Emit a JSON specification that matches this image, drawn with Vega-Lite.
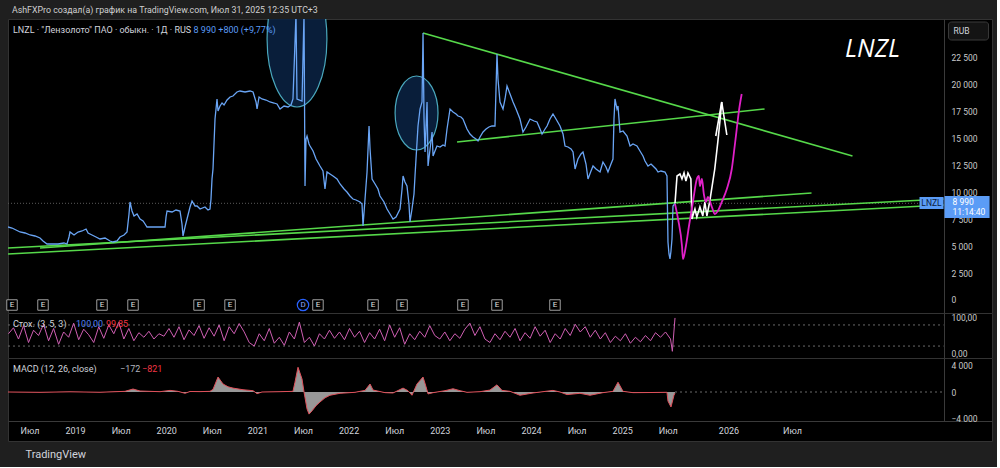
{
"$schema":"https://vega.github.io/schema/vega-lite/v6.json",
"background":"#1f1f1f",
"padding":{"left":4,"right":4,"top":5,"bottom":7},
"title":{"text":"AshFXPro создал(а) график на TradingView.com, Июл 31, 2025 12:35 UTC+3","anchor":"start","frame":"group","dx":4,"fontSize":8.8,"fontWeight":"normal","color":"#d0d0d0","font":"Roboto","offset":-5,"baseline":"bottom"},
"spacing":0,
"bounds":"flush",
"config":{
 "view":{"stroke":"#333333","fill":"#000000","strokeWidth":1},
 "font":"Roboto",
 "axis":{"labelFont":"Roboto","domainColor":"#3a3a3a","labelColor":"#c9c9c9","ticks":false,"tickSize":0,"grid":false,"labelFontSize":8.5,"labelFlush":false,"labelOverlap":false}
},
"datasets":{
 "price":[{"t":2018.265,"v":6787},{"t":2018.309,"v":6694},{"t":2018.353,"v":6508},{"t":2018.397,"v":6322},{"t":2018.452,"v":6229},{"t":2018.507,"v":6043},{"t":2018.561,"v":5950},{"t":2018.616,"v":5764},{"t":2018.649,"v":5485},{"t":2018.693,"v":5206},{"t":2018.748,"v":5206},{"t":2018.814,"v":5206},{"t":2018.879,"v":5299},{"t":2018.912,"v":5206},{"t":2018.934,"v":5857},{"t":2018.945,"v":6322},{"t":2018.989,"v":6043},{"t":2019.033,"v":6322},{"t":2019.077,"v":6415},{"t":2019.121,"v":6601},{"t":2019.143,"v":6229},{"t":2019.186,"v":6043},{"t":2019.230,"v":5857},{"t":2019.274,"v":5671},{"t":2019.329,"v":5764},{"t":2019.384,"v":5485},{"t":2019.417,"v":5392},{"t":2019.461,"v":5485},{"t":2019.493,"v":5857},{"t":2019.537,"v":6043},{"t":2019.570,"v":6322},{"t":2019.592,"v":7995},{"t":2019.603,"v":9111},{"t":2019.625,"v":8274},{"t":2019.647,"v":7809},{"t":2019.680,"v":7995},{"t":2019.713,"v":7531},{"t":2019.746,"v":7345},{"t":2019.768,"v":7066},{"t":2019.789,"v":6787},{"t":2019.877,"v":6787},{"t":2019.932,"v":6787},{"t":2019.987,"v":6787},{"t":2019.998,"v":7717},{"t":2020.009,"v":8274},{"t":2020.064,"v":8181},{"t":2020.107,"v":8367},{"t":2020.151,"v":8274},{"t":2020.173,"v":7066},{"t":2020.184,"v":5950},{"t":2020.206,"v":6787},{"t":2020.228,"v":7531},{"t":2020.261,"v":8646},{"t":2020.283,"v":9204},{"t":2020.316,"v":8739},{"t":2020.338,"v":8739},{"t":2020.371,"v":8460},{"t":2020.425,"v":8646},{"t":2020.458,"v":8367},{"t":2020.480,"v":8460},{"t":2020.491,"v":9390},{"t":2020.502,"v":11249},{"t":2020.513,"v":12179},{"t":2020.535,"v":16828},{"t":2020.557,"v":18687},{"t":2020.568,"v":17571},{"t":2020.590,"v":18036},{"t":2020.612,"v":18315},{"t":2020.634,"v":18129},{"t":2020.667,"v":18594},{"t":2020.700,"v":18873},{"t":2020.732,"v":18966},{"t":2020.776,"v":19338},{"t":2020.809,"v":19431},{"t":2020.864,"v":19338},{"t":2020.919,"v":19431},{"t":2020.952,"v":19338},{"t":2020.985,"v":18408},{"t":2020.996,"v":17757},{"t":2021.018,"v":18873},{"t":2021.050,"v":18687},{"t":2021.094,"v":18594},{"t":2021.138,"v":18408},{"t":2021.182,"v":18315},{"t":2021.215,"v":18222},{"t":2021.248,"v":17757},{"t":2021.292,"v":18036},{"t":2021.336,"v":17943},{"t":2021.368,"v":18129},{"t":2021.390,"v":18687},{"t":2021.423,"v":26589},{"t":2021.434,"v":18687},{"t":2021.489,"v":18501},{"t":2021.511,"v":26589},{"t":2021.522,"v":10599},{"t":2021.533,"v":14968},{"t":2021.544,"v":15247},{"t":2021.566,"v":14503},{"t":2021.577,"v":14317},{"t":2021.610,"v":13853},{"t":2021.643,"v":13109},{"t":2021.686,"v":12458},{"t":2021.719,"v":11993},{"t":2021.741,"v":10320},{"t":2021.763,"v":11900},{"t":2021.796,"v":11714},{"t":2021.829,"v":11528},{"t":2021.873,"v":11249},{"t":2021.906,"v":10785},{"t":2021.950,"v":10320},{"t":2021.982,"v":10041},{"t":2022.015,"v":9669},{"t":2022.048,"v":9390},{"t":2022.081,"v":9297},{"t":2022.125,"v":9111},{"t":2022.147,"v":8925},{"t":2022.158,"v":6880},{"t":2022.180,"v":9390},{"t":2022.202,"v":11900},{"t":2022.224,"v":16177},{"t":2022.235,"v":14038},{"t":2022.257,"v":11249},{"t":2022.290,"v":10785},{"t":2022.322,"v":10320},{"t":2022.344,"v":9669},{"t":2022.388,"v":9111},{"t":2022.421,"v":8460},{"t":2022.454,"v":7995},{"t":2022.487,"v":7531},{"t":2022.520,"v":7717},{"t":2022.564,"v":8460},{"t":2022.586,"v":10320},{"t":2022.597,"v":11528},{"t":2022.618,"v":10970},{"t":2022.640,"v":10599},{"t":2022.662,"v":8925},{"t":2022.673,"v":7252},{"t":2022.695,"v":8460},{"t":2022.717,"v":9855},{"t":2022.728,"v":11528},{"t":2022.739,"v":13109},{"t":2022.761,"v":16177},{"t":2022.783,"v":17757},{"t":2022.805,"v":18408},{"t":2022.816,"v":24823},{"t":2022.827,"v":16828},{"t":2022.838,"v":13760},{"t":2022.860,"v":18408},{"t":2022.871,"v":12458},{"t":2022.893,"v":14038},{"t":2022.915,"v":15619},{"t":2022.926,"v":13388},{"t":2022.947,"v":13853},{"t":2022.969,"v":14317},{"t":2023.002,"v":14224},{"t":2023.035,"v":14410},{"t":2023.057,"v":14317},{"t":2023.079,"v":15898},{"t":2023.112,"v":17757},{"t":2023.145,"v":17478},{"t":2023.178,"v":17292},{"t":2023.200,"v":17106},{"t":2023.232,"v":17013},{"t":2023.254,"v":16828},{"t":2023.276,"v":16363},{"t":2023.298,"v":15898},{"t":2023.331,"v":15433},{"t":2023.364,"v":15154},{"t":2023.397,"v":14968},{"t":2023.419,"v":14782},{"t":2023.441,"v":15154},{"t":2023.474,"v":15619},{"t":2023.507,"v":15898},{"t":2023.539,"v":16084},{"t":2023.572,"v":16177},{"t":2023.605,"v":16177},{"t":2023.627,"v":22871},{"t":2023.638,"v":20546},{"t":2023.660,"v":18408},{"t":2023.693,"v":17757},{"t":2023.715,"v":18687},{"t":2023.737,"v":19896},{"t":2023.770,"v":19152},{"t":2023.803,"v":18408},{"t":2023.836,"v":17757},{"t":2023.879,"v":16828},{"t":2023.912,"v":15619},{"t":2023.945,"v":16084},{"t":2023.989,"v":16828},{"t":2024.033,"v":16642},{"t":2024.066,"v":16549},{"t":2024.099,"v":15898},{"t":2024.121,"v":15433},{"t":2024.154,"v":15898},{"t":2024.176,"v":16177},{"t":2024.208,"v":16828},{"t":2024.241,"v":17292},{"t":2024.274,"v":16828},{"t":2024.318,"v":16177},{"t":2024.351,"v":15433},{"t":2024.373,"v":14317},{"t":2024.406,"v":14224},{"t":2024.439,"v":14038},{"t":2024.461,"v":13760},{"t":2024.483,"v":12179},{"t":2024.515,"v":13109},{"t":2024.548,"v":13574},{"t":2024.570,"v":13760},{"t":2024.603,"v":12644},{"t":2024.625,"v":11249},{"t":2024.658,"v":11993},{"t":2024.680,"v":12458},{"t":2024.713,"v":12179},{"t":2024.757,"v":11900},{"t":2024.789,"v":12830},{"t":2024.822,"v":12365},{"t":2024.844,"v":11900},{"t":2024.877,"v":12644},{"t":2024.899,"v":13109},{"t":2024.910,"v":16828},{"t":2024.921,"v":18687},{"t":2024.943,"v":17757},{"t":2024.954,"v":18036},{"t":2024.976,"v":15619},{"t":2025.009,"v":15712},{"t":2025.053,"v":15247},{"t":2025.086,"v":14317},{"t":2025.118,"v":14503},{"t":2025.162,"v":14317},{"t":2025.195,"v":13853},{"t":2025.228,"v":13388},{"t":2025.250,"v":12923},{"t":2025.283,"v":12458},{"t":2025.316,"v":12644},{"t":2025.338,"v":12458},{"t":2025.371,"v":12179},{"t":2025.393,"v":11900},{"t":2025.425,"v":11993},{"t":2025.469,"v":11900},{"t":2025.491,"v":11528},{"t":2025.502,"v":5392},{"t":2025.513,"v":4277},{"t":2025.524,"v":3812},{"t":2025.535,"v":4556},{"t":2025.546,"v":5671},{"t":2025.557,"v":8739},{"t":2025.579,"v":8990}],
 "white":[{"t":2025.579,"v":8990},{"t":2025.595,"v":11528},{"t":2025.618,"v":11714},{"t":2025.634,"v":11249},{"t":2025.650,"v":11807},{"t":2025.665,"v":11063},{"t":2025.681,"v":11807},{"t":2025.704,"v":11249},{"t":2025.712,"v":7531},{"t":2025.736,"v":8460},{"t":2025.751,"v":7717},{"t":2025.775,"v":8646},{"t":2025.798,"v":7809},{"t":2025.814,"v":9111},{"t":2025.830,"v":7809},{"t":2025.853,"v":9204},{"t":2025.892,"v":12179},{"t":2025.916,"v":14689},{"t":2025.932,"v":16549},{"t":2025.947,"v":18408}],
 "arrow":[{"t":2025.900,"v":15247},{"t":2025.947,"v":18408},{"t":2025.987,"v":15340}],
 "magenta":[{"t":2025.579,"v":8925},{"t":2025.603,"v":7531},{"t":2025.634,"v":5020},{"t":2025.642,"v":3812},{"t":2025.665,"v":5020},{"t":2025.689,"v":6880},{"t":2025.720,"v":9111},{"t":2025.751,"v":11249},{"t":2025.767,"v":11528},{"t":2025.775,"v":10599},{"t":2025.791,"v":11249},{"t":2025.806,"v":9855},{"t":2025.822,"v":9111},{"t":2025.838,"v":9576},{"t":2025.869,"v":8646},{"t":2025.892,"v":7995},{"t":2025.916,"v":8274},{"t":2025.947,"v":9111},{"t":2025.987,"v":10320},{"t":2026.026,"v":12179},{"t":2026.049,"v":14317},{"t":2026.065,"v":15898},{"t":2026.081,"v":17478},{"t":2026.104,"v":19152}],
 "trend":[{"id":"down","t":2022.816,"v":24823},{"id":"down","t":2026.974,"v":13388},{"id":"mid","t":2023.189,"v":14689},{"id":"mid","t":2026.284,"v":17757},{"id":"l1","t":2018.616,"v":4834},{"id":"l1","t":2026.653,"v":9948},{"id":"a","t":2018.265,"v":4834},{"id":"a","t":2027.687,"v":9390},{"id":"b","t":2018.265,"v":4277},{"id":"b","t":2027.687,"v":8832}],
 "events":[{"t":2018.309,"v":-465,"label":"E"},{"t":2018.649,"v":-465,"label":"E"},{"t":2019.296,"v":-465,"label":"E"},{"t":2019.636,"v":-465,"label":"E"},{"t":2020.360,"v":-465,"label":"E"},{"t":2020.700,"v":-465,"label":"E"},{"t":2021.664,"v":-465,"label":"E"},{"t":2022.268,"v":-465,"label":"E"},{"t":2022.586,"v":-465,"label":"E"},{"t":2023.254,"v":-465,"label":"E"},{"t":2023.627,"v":-465,"label":"E"},{"t":2024.263,"v":-465,"label":"E"}],
 "stoch":[{"t":2018.270,"v":55},{"t":2018.325,"v":72},{"t":2018.380,"v":40},{"t":2018.435,"v":78},{"t":2018.490,"v":30},{"t":2018.545,"v":65},{"t":2018.600,"v":50},{"t":2018.655,"v":82},{"t":2018.710,"v":35},{"t":2018.765,"v":70},{"t":2018.820,"v":25},{"t":2018.875,"v":60},{"t":2018.930,"v":45},{"t":2018.985,"v":85},{"t":2019.040,"v":38},{"t":2019.095,"v":68},{"t":2019.150,"v":52},{"t":2019.205,"v":30},{"t":2019.260,"v":75},{"t":2019.315,"v":42},{"t":2019.370,"v":80},{"t":2019.425,"v":55},{"t":2019.480,"v":88},{"t":2019.535,"v":40},{"t":2019.590,"v":70},{"t":2019.645,"v":35},{"t":2019.700,"v":58},{"t":2019.755,"v":45},{"t":2019.810,"v":62},{"t":2019.865,"v":40},{"t":2019.920,"v":55},{"t":2019.975,"v":48},{"t":2020.030,"v":70},{"t":2020.085,"v":45},{"t":2020.140,"v":75},{"t":2020.195,"v":38},{"t":2020.250,"v":66},{"t":2020.305,"v":50},{"t":2020.360,"v":78},{"t":2020.415,"v":42},{"t":2020.470,"v":72},{"t":2020.525,"v":48},{"t":2020.580,"v":80},{"t":2020.635,"v":35},{"t":2020.690,"v":75},{"t":2020.745,"v":55},{"t":2020.800,"v":84},{"t":2020.855,"v":60},{"t":2020.910,"v":30},{"t":2020.965,"v":20},{"t":2021.020,"v":55},{"t":2021.075,"v":35},{"t":2021.130,"v":70},{"t":2021.185,"v":28},{"t":2021.240,"v":45},{"t":2021.295,"v":22},{"t":2021.350,"v":60},{"t":2021.405,"v":40},{"t":2021.460,"v":88},{"t":2021.515,"v":30},{"t":2021.570,"v":45},{"t":2021.625,"v":20},{"t":2021.680,"v":55},{"t":2021.735,"v":40},{"t":2021.790,"v":65},{"t":2021.845,"v":42},{"t":2021.900,"v":60},{"t":2021.955,"v":38},{"t":2022.010,"v":70},{"t":2022.065,"v":45},{"t":2022.120,"v":62},{"t":2022.175,"v":30},{"t":2022.230,"v":58},{"t":2022.285,"v":40},{"t":2022.340,"v":68},{"t":2022.395,"v":35},{"t":2022.450,"v":80},{"t":2022.505,"v":45},{"t":2022.560,"v":72},{"t":2022.615,"v":25},{"t":2022.670,"v":55},{"t":2022.725,"v":38},{"t":2022.780,"v":62},{"t":2022.835,"v":45},{"t":2022.890,"v":78},{"t":2022.945,"v":50},{"t":2023.000,"v":40},{"t":2023.055,"v":60},{"t":2023.110,"v":35},{"t":2023.165,"v":55},{"t":2023.220,"v":42},{"t":2023.275,"v":68},{"t":2023.330,"v":85},{"t":2023.385,"v":50},{"t":2023.440,"v":75},{"t":2023.495,"v":40},{"t":2023.550,"v":30},{"t":2023.605,"v":55},{"t":2023.660,"v":38},{"t":2023.715,"v":62},{"t":2023.770,"v":45},{"t":2023.825,"v":70},{"t":2023.880,"v":35},{"t":2023.935,"v":58},{"t":2023.990,"v":42},{"t":2024.045,"v":75},{"t":2024.100,"v":48},{"t":2024.155,"v":65},{"t":2024.210,"v":30},{"t":2024.265,"v":55},{"t":2024.320,"v":40},{"t":2024.375,"v":70},{"t":2024.430,"v":50},{"t":2024.485,"v":82},{"t":2024.540,"v":60},{"t":2024.595,"v":75},{"t":2024.650,"v":45},{"t":2024.705,"v":65},{"t":2024.760,"v":40},{"t":2024.815,"v":58},{"t":2024.870,"v":30},{"t":2024.925,"v":48},{"t":2024.980,"v":35},{"t":2025.035,"v":55},{"t":2025.090,"v":28},{"t":2025.145,"v":45},{"t":2025.200,"v":32},{"t":2025.255,"v":50},{"t":2025.310,"v":35},{"t":2025.365,"v":58},{"t":2025.420,"v":45},{"t":2025.475,"v":60},{"t":2025.530,"v":40},{"t":2025.550,"v":5},{"t":2025.579,"v":100}],
 "macd":[{"t":2018.265,"v":0},{"t":2018.616,"v":-50},{"t":2018.945,"v":30},{"t":2019.274,"v":-40},{"t":2019.548,"v":100},{"t":2019.636,"v":460},{"t":2019.713,"v":150},{"t":2019.932,"v":50},{"t":2020.042,"v":250},{"t":2020.129,"v":100},{"t":2020.206,"v":-200},{"t":2020.261,"v":80},{"t":2020.371,"v":60},{"t":2020.480,"v":100},{"t":2020.513,"v":400},{"t":2020.568,"v":2300},{"t":2020.623,"v":1230},{"t":2020.678,"v":800},{"t":2020.732,"v":600},{"t":2020.842,"v":350},{"t":2020.952,"v":200},{"t":2020.996,"v":-250},{"t":2021.050,"v":0},{"t":2021.248,"v":50},{"t":2021.390,"v":100},{"t":2021.412,"v":1500},{"t":2021.445,"v":3800},{"t":2021.489,"v":2000},{"t":2021.511,"v":0},{"t":2021.544,"v":-2600},{"t":2021.566,"v":-3400},{"t":2021.599,"v":-2900},{"t":2021.643,"v":-2100},{"t":2021.686,"v":-1540},{"t":2021.741,"v":-900},{"t":2021.796,"v":-500},{"t":2021.906,"v":-200},{"t":2022.070,"v":-50},{"t":2022.180,"v":250},{"t":2022.235,"v":1230},{"t":2022.268,"v":300},{"t":2022.399,"v":-100},{"t":2022.487,"v":-150},{"t":2022.597,"v":600},{"t":2022.651,"v":200},{"t":2022.695,"v":-500},{"t":2022.750,"v":1230},{"t":2022.816,"v":2300},{"t":2022.849,"v":800},{"t":2022.871,"v":-300},{"t":2022.926,"v":-100},{"t":2023.057,"v":200},{"t":2023.145,"v":500},{"t":2023.222,"v":200},{"t":2023.298,"v":-50},{"t":2023.441,"v":50},{"t":2023.550,"v":300},{"t":2023.627,"v":1100},{"t":2023.682,"v":250},{"t":2023.770,"v":100},{"t":2023.879,"v":-500},{"t":2024.022,"v":-150},{"t":2024.241,"v":250},{"t":2024.318,"v":0},{"t":2024.395,"v":-400},{"t":2024.537,"v":-200},{"t":2024.647,"v":-500},{"t":2024.789,"v":-100},{"t":2024.899,"v":100},{"t":2024.954,"v":1500},{"t":2025.009,"v":100},{"t":2025.118,"v":-100},{"t":2025.305,"v":-80},{"t":2025.491,"v":-50},{"t":2025.502,"v":-1400},{"t":2025.535,"v":-2300},{"t":2025.568,"v":-500},{"t":2025.579,"v":-172}]
},
"vconcat":[
 {
  "width":984,"height":294,
  "encoding":{
   "x":{"field":"t","type":"quantitative","scale":{"domain":[2018.265,2025.579,2026.5,2028.067],"range":[0,667,784,984],"nice":false,"zero":false},"axis":null},
   "y":{"field":"v","type":"quantitative","scale":{"domain":[-1209,26125],"nice":false,"zero":false},"axis":{"orient":"right","offset":-48,"values":[0,2500,5000,7500,10000,12500,15000,17500,20000,22500],"labelExpr":"replace(format(datum.value, ','), ',', ' ')","title":null,"labelPadding":7}}
  },
  "layer":[
   {"data":{"values":[{"t":2021.434,"v":24265}]},"mark":{"type":"point","shape":"M0,-1A0.44,1,0,1,1,0,1A0.44,1,0,1,1,0,-1Z","size":18496,"filled":true,"fill":"#0a2140","fillOpacity":0.9,"stroke":"#4aa8bd","strokeWidth":1.2,"opacity":1,"clip":true}},
   {"data":{"values":[{"t":2022.745,"v":17385}]},"mark":{"type":"point","shape":"M0,-1A0.58,1,0,1,1,0,1A0.58,1,0,1,1,0,-1Z","size":5476,"filled":true,"fill":"#0a2140","fillOpacity":0.9,"stroke":"#4aa8bd","strokeWidth":1.2,"opacity":1,"clip":true}},
   {"data":{"values":[{"t":2018.265,"t2":2027.687,"v":8990}]},"mark":{"type":"rule","color":"#5a5a5a","strokeDash":[1,2],"strokeWidth":1},"encoding":{"x2":{"field":"t2"}}},
   {"data":{"name":"trend"},"mark":{"type":"line","color":"#56d84a","strokeWidth":1.6,"clip":true},"encoding":{"detail":{"field":"id"}}},
   {"data":{"name":"price"},"mark":{"type":"line","color":"#6aa5f5","strokeWidth":1.3,"clip":true}},
   {"data":{"name":"white"},"mark":{"type":"line","color":"#ffffff","strokeWidth":1.6,"clip":true}},
   {"data":{"name":"arrow"},"mark":{"type":"line","color":"#ffffff","strokeWidth":1.6,"clip":true}},
   {"data":{"name":"magenta"},"mark":{"type":"line","color":"#e020c8","strokeWidth":1.8,"interpolate":"monotone","clip":true}},
   {"data":{"name":"events"},"mark":{"type":"point","shape":"square","size":110,"filled":true,"fill":"#000000","stroke":"#9e9e9e","strokeWidth":1,"opacity":1}},
   {"data":{"name":"events"},"mark":{"type":"text","fontSize":8,"color":"#e0e0e0","align":"center","baseline":"middle"},"encoding":{"text":{"field":"label"}}},
   {"data":{"values":[{"t":2021.5,"v":-465,"label":"D"}]},"mark":{"type":"point","shape":"circle","size":130,"filled":true,"fill":"#000000","stroke":"#2962ff","strokeWidth":1.2,"opacity":1}},
   {"data":{"values":[{"t":2021.5,"v":-465,"label":"D"}]},"mark":{"type":"text","fontSize":8,"color":"#8fa8ff","align":"center","baseline":"middle"},"encoding":{"text":{"field":"label"}}},
   {"data":{"values":[{"t":2018.320,"v":25102,"label":"LNZL · \"Лензолото\" ПАО · обыкн. · 1Д · RUS"}]},"mark":{"type":"text","fontSize":9,"color":"#d1d4dc","align":"left","baseline":"middle"},"encoding":{"text":{"field":"label"}}},
   {"data":{"values":[{"t":2020.300,"v":25102,"label":"8 990  +800 (+9,77%)"}]},"mark":{"type":"text","fontSize":9,"color":"#5b9cf6","align":"left","baseline":"middle"},"encoding":{"text":{"field":"label"}}},
   {"data":{"values":[{"t":2027.131,"v":23335,"label":"LNZL"}]},"mark":{"type":"text","fontSize":25,"font":"Open Sans","fontStyle":"italic","color":"#ffffff","align":"center","baseline":"middle"},"encoding":{"text":{"field":"label"}}},
   {"data":{"values":[{"t":2027.726,"t2":2028.040,"v":25846,"v2":24172}]},"mark":{"type":"rect","fill":"#141414","stroke":"#3a3a3a","cornerRadius":3},"encoding":{"x2":{"field":"t2"},"y2":{"field":"v2"}}},
   {"data":{"values":[{"t":2027.766,"v":25010,"label":"RUB"}]},"mark":{"type":"text","fontSize":8.5,"color":"#d1d4dc","align":"left","baseline":"middle"},"encoding":{"text":{"field":"label"}}},
   {"data":{"values":[{"t":2027.499,"t2":2027.687,"v":9576,"v2":8460},{"t":2027.695,"t2":2028.048,"v":9669,"v2":7624}]},"mark":{"type":"rect","fill":"#5b9cf6"},"encoding":{"x2":{"field":"t2"},"y2":{"field":"v2"}}},
   {"data":{"values":[{"t":2027.593,"v":9018,"label":"LNZL"}]},"mark":{"type":"text","fontSize":8.5,"color":"#0d1b3e","align":"center","baseline":"middle"},"encoding":{"text":{"field":"label"}}},
   {"data":{"values":[{"t":2027.758,"v":9111,"label":"8 990"},{"t":2027.758,"v":8181,"label":"11:14:40"}]},"mark":{"type":"text","fontSize":8.5,"color":"#ffffff","align":"left","baseline":"middle"},"encoding":{"text":{"field":"label"}}}
  ]
 },
 {
  "width":984,"height":45,
  "encoding":{
   "x":{"field":"t","type":"quantitative","scale":{"domain":[2018.265,2025.579,2026.5,2028.067],"range":[0,667,784,984],"nice":false,"zero":false},"axis":null},
   "y":{"field":"v","type":"quantitative","scale":{"domain":[-14,114],"nice":false,"zero":false},"axis":{"orient":"right","offset":-48,"values":[0,100],"labelExpr":"replace(format(datum.value, '.2f'), '.', ',')","title":null,"labelPadding":7}}
  },
  "layer":[
   {"data":{"values":[{"t":2018.265,"t2":2027.687,"v":80},{"t":2018.265,"t2":2027.687,"v":20}]},"mark":{"type":"rule","color":"#6a6a6a","strokeDash":[2,3],"strokeWidth":1},"encoding":{"x2":{"field":"t2"}}},
   {"data":{"name":"stoch"},"mark":{"type":"line","color":"#cf5fb3","strokeWidth":1,"clip":true}},
   {"data":{"values":[{"t":2018.320,"v":83,"label":"Стох. (3, 5, 3)"}]},"mark":{"type":"text","fontSize":9,"color":"#d1d4dc","align":"left","baseline":"middle"},"encoding":{"text":{"field":"label"}}},
   {"data":{"values":[{"t":2019.011,"v":83,"label":"100,00"}]},"mark":{"type":"text","fontSize":9,"color":"#4f7ff0","align":"left","baseline":"middle"},"encoding":{"text":{"field":"label"}}},
   {"data":{"values":[{"t":2019.340,"v":83,"label":"99,85"}]},"mark":{"type":"text","fontSize":9,"color":"#f23645","align":"left","baseline":"middle"},"encoding":{"text":{"field":"label"}}}
  ]
 },
 {
  "width":984,"height":83,
  "encoding":{
   "x":{"field":"t","type":"quantitative","scale":{"domain":[2018.265,2025.579,2026.5,2028.067],"range":[0,667,784,984],"nice":false,"zero":false},
        "axis":{"orient":"bottom","offset":-20,"values":[2018.5,2019,2019.5,2020,2020.5,2021,2021.5,2022,2022.5,2023,2023.5,2024,2024.5,2025,2025.5,2026,2026.5],"labelExpr":"datum.value % 1 === 0 ? format(datum.value, 'd') : 'Июл'","labelFontSize":9,"labelPadding":5,"labelColor":"#d1d4dc","title":"TradingView","titleAnchor":"start","titleAlign":"left","titleX":17,"titleY":33,"titleBaseline":"middle","titleColor":"#d1d4dc","titleFontSize":11,"titleFontWeight":"normal","titleFont":"Roboto"}},
   "y":{"field":"v","type":"quantitative","scale":{"domain":[-4460,5229],"range":[63,0],"nice":false,"zero":false},"axis":{"orient":"right","offset":-48,"values":[-4000,0,4000],"labelExpr":"replace(format(datum.value, ','), ',', ' ')","title":null,"labelPadding":7}}
  },
  "layer":[
   {"data":{"values":[{"t":2025.579,"t2":2027.687,"v":0}]},"mark":{"type":"rule","color":"#6a6a6a","strokeDash":[2,3],"strokeWidth":1},"encoding":{"x2":{"field":"t2"}}},
   {"data":{"name":"macd"},"mark":{"type":"area","color":"#a8a8a8","opacity":0.9,"clip":true},"encoding":{"y2":{"datum":0}}},
   {"data":{"name":"macd"},"mark":{"type":"line","color":"#e0505a","strokeWidth":1,"clip":true}},
   {"data":{"values":[{"t":2018.320,"v":3537,"label":"MACD (12, 26, close)"}]},"mark":{"type":"text","fontSize":9,"color":"#d1d4dc","align":"left","baseline":"middle"},"encoding":{"text":{"field":"label"}}},
   {"data":{"values":[{"t":2019.493,"v":3537,"label":"−172"}]},"mark":{"type":"text","fontSize":9,"color":"#b2b5be","align":"left","baseline":"middle"},"encoding":{"text":{"field":"label"}}},
   {"data":{"values":[{"t":2019.735,"v":3537,"label":"−821"}]},"mark":{"type":"text","fontSize":9,"color":"#f23645","align":"left","baseline":"middle"},"encoding":{"text":{"field":"label"}}}
  ]
 }
]
}
